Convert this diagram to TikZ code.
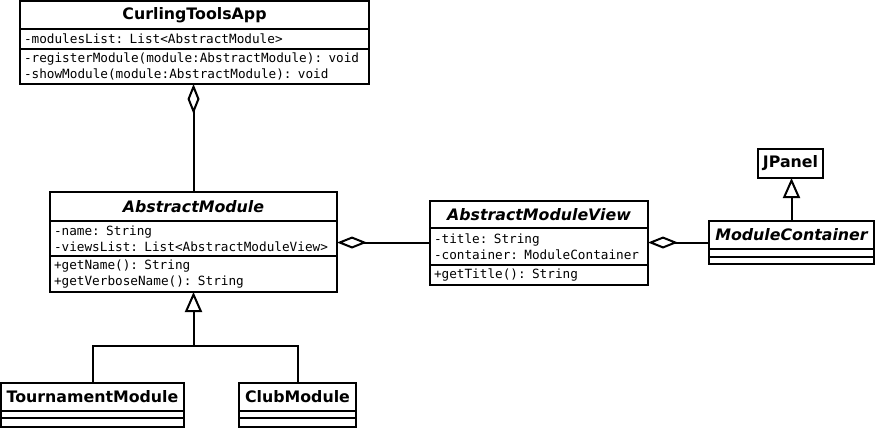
\documentclass[tikz,border=0pt]{standalone}
\usepackage{fontspec}
\setmainfont{DejaVu Sans}
\setmonofont{DejaVu Sans Mono}
\usetikzlibrary{arrows.meta,positioning}

\begin{document}
\begin{tikzpicture}[x=1pt,y=-1pt]
					\tikzstyle{box}=[draw=black,line width=2pt,inner xsep=4pt,inner ysep=0pt,outer sep=0pt]
					\tikzstyle{head}=[box,anchor=north west,align=center,minimum height=28pt,font=\fontsize{15.8}{18}\selectfont\bfseries]
					\tikzstyle{member}=[box,align=left,font=\fontsize{12.7}{16}\selectfont\ttfamily]
					\tikzstyle{link}=[line width=2pt]
					\tikzstyle{agg}=[link,-{Diamond[open,length=30pt,width=12pt]}]
					\tikzstyle{gen}=[link,-{Triangle[open,length=20pt,width=17pt]}]
					\useasboundingbox (0,0) rectangle (876,429);
					% CurlingToolsApp
					\node[head,text width=341pt] (app) at (20,1) {CurlingToolsApp};
					\node[member,text width=341pt,minimum height=20pt,below=0pt of app] (app-a) {-modulesList: List<AbstractModule>};
					\node[member,text width=341pt,minimum height=35pt,below=0pt of app-a] (app-m) {-registerModule(module:AbstractModule): void\\-showModule(module:AbstractModule): void};
					% AbstractModule
					\node[head,text width=279pt,minimum height=29pt] (am) at (50,192) {\itshape AbstractModule};
					\node[member,text width=279pt,minimum height=35pt,below=0pt of am] (am-a) {-name: String\\-viewsList: List<AbstractModuleView>};
					\node[member,text width=279pt,minimum height=36pt,below=0pt of am-a] (am-m) {+getName(): String\\+getVerboseName(): String};
					% AbstractModuleView
					\node[head,text width=210pt,minimum height=27pt] (amv) at (430,201) {\itshape AbstractModuleView};
					\node[member,text width=210pt,minimum height=37pt,below=0pt of amv] (amv-a) {-title: String\\-container: ModuleContainer};
					\node[member,text width=210pt,minimum height=20pt,below=0pt of amv-a] (amv-m) {+getTitle(): String};
					% ModuleContainer
					\node[head,text width=157pt] (mc) at (709,221) {\itshape ModuleContainer};
					\node[member,text width=157pt,minimum height=8pt,below=0pt of mc] (mc-a) {};
					\node[member,text width=157pt,minimum height=7pt,below=0pt of mc-a] (mc-m) {};
					% JPanel
					\node[head,text width=57pt,minimum height=29pt] (jp) at (758,149) {JPanel};
					% TournamentModule
					\node[head,text width=175pt] (tm) at (1,383) {TournamentModule};
					\node[member,text width=175pt,minimum height=7pt,below=0pt of tm] (tm-a) {};
					\node[member,text width=175pt,minimum height=9pt,below=0pt of tm-a] (tm-m) {};
					% ClubModule
					\node[head,text width=109pt] (cm) at (239,383) {ClubModule};
					\node[member,text width=109pt,minimum height=7pt,below=0pt of cm] (cm-a) {};
					\node[member,text width=109pt,minimum height=9pt,below=0pt of cm-a] (cm-m) {};
					% relations
					\coordinate (row) at (0,242.5);
					\coordinate (split) at (am-m.south |- 0,346);
					\draw[agg] (am.north) -- (am.north |- app-m.south);
					\draw[agg] (amv-a.west |- row) -- (am-a.east |- row);
					\draw[agg] (mc.west |- row) -- (amv-a.east |- row);
					\draw[gen] (mc.north) -- (mc.north |- jp.south);
					\draw[gen] (split) -- (am-m.south);
					\draw[link] (tm.north) |- (split) -| (cm.north);
\end{tikzpicture}
\end{document}
